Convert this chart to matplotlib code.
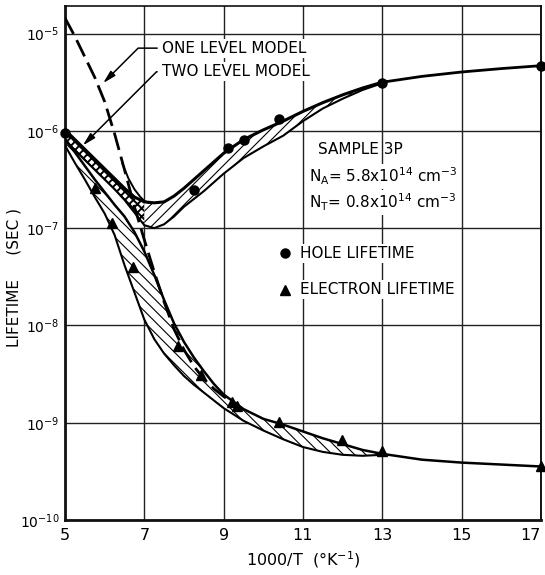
import numpy as np
import matplotlib
matplotlib.use("Agg")
import matplotlib.pyplot as plt

plt.rcParams["font.family"] = ["DejaVu Sans"]
plt.rcParams["mathtext.fontset"] = "dejavusans"
plt.rcParams["hatch.linewidth"] = 0.8

# ---- data: 1000/T (1/K) and log10 of lifetime (s) ----
hole_x = [5.0, 5.25, 5.5, 5.75, 6.0, 6.25, 6.5, 6.75, 7.0, 7.25, 7.5, 7.75,
          8.0, 8.25, 8.5, 8.75, 9.0, 9.5, 10.0, 10.5, 11.0, 11.5, 12.0,
          12.5, 13.0]
hole_upper_log = [-5.99, -6.09, -6.19, -6.29, -6.39, -6.49, -6.59, -6.68,
                  -6.73, -6.74, -6.73, -6.67, -6.59, -6.50, -6.41, -6.32,
                  -6.23, -6.09, -5.99, -5.90, -5.80, -5.71, -5.63, -5.56,
                  -5.50]
hole_lower_log = [-6.10, -6.20, -6.30, -6.40, -6.50, -6.60, -6.71, -6.84,
                  -6.97, -7.00, -6.96, -6.88, -6.78, -6.70, -6.62, -6.53,
                  -6.44, -6.28, -6.16, -6.05, -5.90, -5.77, -5.67, -5.58,
                  -5.51]
hole_tail_x = [13.0, 14.0, 15.0, 16.0, 17.0]
hole_tail_log = [-5.50, -5.44, -5.395, -5.36, -5.33]

elec_x = [5.0, 5.25, 5.5, 5.75, 6.0, 6.25, 6.5, 6.75, 7.0, 7.25, 7.5, 7.75,
          8.0, 8.25, 8.5, 8.75, 9.0, 9.5, 10.0, 10.5, 11.0, 11.5, 12.0,
          12.5, 13.0]
elec_upper_log = [-6.08, -6.22, -6.36, -6.50, -6.63, -6.76, -6.88, -7.04,
                  -7.24, -7.48, -7.74, -7.98, -8.17, -8.33, -8.47, -8.60,
                  -8.71, -8.86, -8.96, -9.02, -9.09, -9.16, -9.22, -9.28,
                  -9.32]
elec_lower_log = [-6.15, -6.33, -6.50, -6.68, -6.85, -7.07, -7.38, -7.66,
                  -7.94, -8.14, -8.29, -8.41, -8.52, -8.61, -8.69, -8.77,
                  -8.85, -8.98, -9.08, -9.17, -9.25, -9.30, -9.33, -9.34,
                  -9.33]
elec_tail_x = [13.0, 14.0, 15.0, 16.0, 17.0]
elec_tail_log = [-9.32, -9.38, -9.41, -9.43, -9.45]

# one level model: common high-temperature branch (dashed) and hole branch
one_x = [5.0, 5.25, 5.5, 5.75, 6.0, 6.25, 6.5, 6.75, 7.0, 7.25, 7.5, 7.75,
         8.0, 8.25, 8.5, 8.75, 9.0, 9.3]
one_log = [-4.84, -5.03, -5.24, -5.45, -5.70, -6.03, -6.40, -6.78, -7.12,
           -7.45, -7.76, -8.04, -8.25, -8.42, -8.55, -8.65, -8.73, -8.81]
one_hole_x = [6.45, 6.6, 6.75, 6.9, 7.0, 7.1]
one_hole_log = [-6.34, -6.49, -6.60, -6.68, -6.72, -6.74]

# measured points
hole_pts_x = [5.0, 8.25, 9.11, 9.51, 10.39, 13.0, 17.0]
hole_pts_log = [-6.02, -6.61, -6.18, -6.09, -5.88, -5.51, -5.33]
elec_pts_x = [5.76, 6.18, 6.71, 7.85, 8.42, 9.2, 9.34, 10.4, 11.98, 12.99, 17.0]
elec_pts_log = [-6.59, -6.95, -7.40, -8.21, -8.51, -8.79, -8.83, -8.99,
                -9.18, -9.29, -9.45]

x_ticks = [5, 7, 9, 11, 13, 15, 17]
y_exponents = [-10, -9, -8, -7, -6, -5]


def lin(v):
    return 10.0 ** np.asarray(v, dtype=float)


fig = plt.figure(figsize=(5.45, 5.75), dpi=100)
ax = fig.add_axes([65 / 545, 55 / 575, 476 / 545, 514 / 575])
ax.set_yscale("log")
ax.set_xlim(5, 17)
ax.set_ylim(1e-10, 1.92e-5)

ax.set_xticks(x_ticks)
xt = ax.set_xticklabels([str(t) for t in x_ticks], fontsize=11.5)
xt[-1].set_horizontalalignment("right")
ax.set_yticks([10.0 ** e for e in y_exponents])
ax.set_yticklabels([r"10$^{%d}$" % e for e in y_exponents], fontsize=10)
ax.minorticks_off()
ax.tick_params(axis="x", length=0, pad=6)
ax.tick_params(axis="y", length=0, pad=4)
ax.grid(True, color="#222222", lw=1.0)
ax.set_axisbelow(True)
for side, w in (("left", 2.0), ("bottom", 2.0), ("top", 1.2), ("right", 1.4)):
    ax.spines[side].set_linewidth(w)
    ax.spines[side].set_color("#111111")

hx = np.array(hole_x)
hu = lin(hole_upper_log)
hl = lin(hole_lower_log)
ex = np.array(elec_x)
eu = lin(elec_upper_log)
el = lin(elec_lower_log)

# electron band (diagonal hatch)
ax.fill_between(ex, el, eu, facecolor="white", edgecolor="k",
                hatch="\\\\\\", linewidth=0, zorder=2)
# hole band: heavy cross hatch on the high temperature side,
# diagonal hatch beyond the minimum
split = hole_x.index(7.0)
with plt.rc_context({"hatch.linewidth": 1.4}):
    cross = ax.fill_between(hx[:split + 1], hl[:split + 1], hu[:split + 1],
                            facecolor="white", edgecolor="k", hatch="xxxx",
                            linewidth=0, zorder=3)
if hasattr(cross, "set_hatch_linewidth"):
    cross.set_hatch_linewidth(1.4)
ax.fill_between(hx[split:], hl[split:], hu[split:], facecolor="white",
                edgecolor="k", hatch="///", linewidth=0, zorder=3)

ax.plot(ex, eu, color="k", lw=1.8, zorder=4)
ax.plot(ex, el, color="k", lw=1.5, zorder=4)
ax.plot(elec_tail_x, lin(elec_tail_log), color="k", lw=1.8, zorder=4)
ax.plot(hx, hu, color="k", lw=2.2, zorder=4)
ax.plot(hx, hl, color="k", lw=1.5, zorder=4)
ax.plot(hole_tail_x, lin(hole_tail_log), color="k", lw=2.0, zorder=4)

ax.plot(one_x, lin(one_log), color="k", lw=2.0, dashes=(6.5, 2.5), zorder=5)
ax.plot(one_hole_x, lin(one_hole_log), color="k", lw=1.4, zorder=5)

ax.plot(hole_pts_x, lin(hole_pts_log), "o", color="k", ms=6.5, zorder=6,
        clip_on=False)
ax.plot(elec_pts_x, lin(elec_pts_log), "^", color="k", ms=7.5, zorder=6,
        clip_on=False)

# labels and annotations
box = dict(facecolor="white", edgecolor="none", pad=1.5)
txt_kw = dict(fontsize=11, color="k", transform=ax.transAxes, zorder=7)
arrow = dict(arrowstyle="-|>,head_length=0.7,head_width=0.18", color="k",
             lw=1.1, shrinkA=2, shrinkB=0,
             connectionstyle="angle,angleA=0,angleB=45,rad=0")
ax.annotate("ONE LEVEL MODEL", xy=(5.96, 10 ** -5.51), xycoords="data",
            xytext=(0.204, 0.918), textcoords="axes fraction",
            fontsize=11, va="center", ha="left", bbox=box, zorder=7,
            arrowprops=arrow)
ax.annotate("TWO LEVEL MODEL", xy=(5.45, 10 ** -6.15), xycoords="data",
            xytext=(0.204, 0.872), textcoords="axes fraction",
            fontsize=11, va="center", ha="left", bbox=box, zorder=7,
            arrowprops=arrow)

ax.text(0.532, 0.720, "SAMPLE 3P", va="center", ha="left", **txt_kw)
ax.text(0.513, 0.668, r"N$_\mathrm{A}$= 5.8x10$^{14}$ cm$^{-3}$",
        va="center", ha="left", bbox=box, **txt_kw)
ax.text(0.513, 0.618, r"N$_\mathrm{T}$= 0.8x10$^{14}$ cm$^{-3}$",
        va="center", ha="left", bbox=box, **txt_kw)

ax.plot([0.462], [0.519], "o", color="k", ms=6.5, transform=ax.transAxes,
        zorder=8)
ax.text(0.494, 0.519, "HOLE LIFETIME", va="center", ha="left", bbox=box,
        **txt_kw)
ax.plot([0.462], [0.448], "^", color="k", ms=7.5, transform=ax.transAxes,
        zorder=8)
ax.text(0.494, 0.448, "ELECTRON LIFETIME", va="center", ha="left", bbox=box,
        **txt_kw)

ax.set_xlabel(r"1000/T  ($\degree$K$^{-1}$)", fontsize=11.5, labelpad=4)
fig.text(14 / 545, 1 - 278 / 575, "LIFETIME     (SEC )", rotation=90,
         fontsize=11, va="center", ha="center")

fig.savefig("out.png", dpi=100)
